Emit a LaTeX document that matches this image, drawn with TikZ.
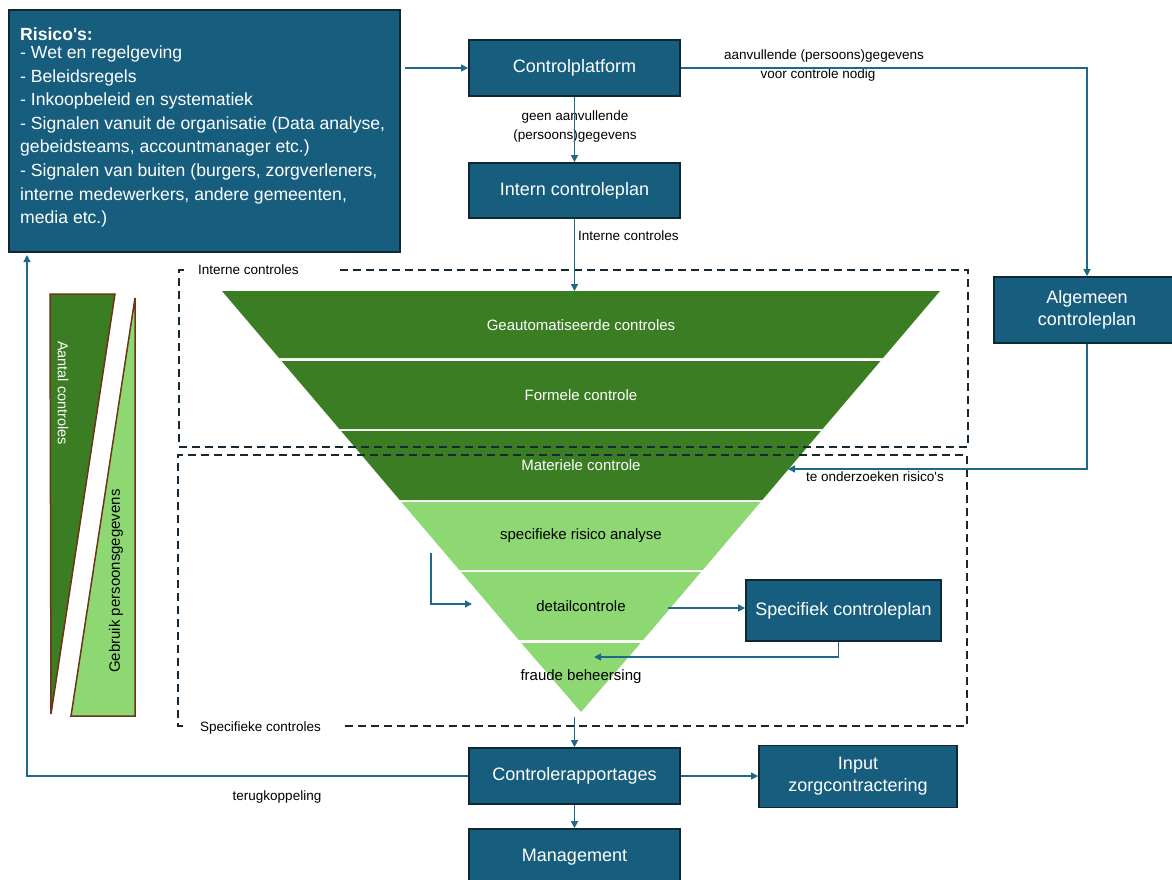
\documentclass[tikz,border=0pt]{standalone}
\usepackage{fontspec}
\setmainfont{Liberation Sans}
\usetikzlibrary{arrows.meta}
\definecolor{boxblue}{RGB}{23,94,126}
\definecolor{boxborder}{RGB}{14,40,54}
\definecolor{arrowblue}{RGB}{31,104,138}
\definecolor{dkgreen}{RGB}{59,125,35}
\definecolor{ltgreen}{RGB}{142,216,115}
\definecolor{brownline}{RGB}{110,52,22}
\definecolor{dashcol}{RGB}{22,40,52}
\newcommand{\sq}{\XeTeXglyph\XeTeXcharglyph"0027\relax}
\begin{document}
\begin{tikzpicture}[x=1pt,y=-1pt,
  box/.style={draw=boxborder, line width=1.8pt, fill=boxblue, text=white, align=center,
    font=\fontsize{18}{22}\selectfont, inner sep=0pt},
  conn/.style={draw=arrowblue, line width=1.4pt},
  arr/.style={conn, -{Triangle[length=7pt,width=7pt]}},
  lbl/.style={font=\fontsize{13.5}{19}\selectfont, text=black, inner sep=0pt, align=center},
  bandtxt/.style={font=\fontsize{15}{17}\selectfont, inner sep=0pt},
  dashbox/.style={draw=dashcol, line width=1.6pt, dash pattern=on 8pt off 5pt},
  sidetri/.style={draw=brownline, line width=1.5pt}]
\clip (0,0) rectangle (1172,879);
\fill[white] (0,0) rectangle (1172,879);

% Risico box
\node[box, minimum width=391pt, minimum height=242pt] (risk) at (204.5,131) {};
\node[anchor=north west, inner sep=0pt, text=white, align=left,
  font=\fontsize{17.6}{23.6}\selectfont] (risktext) at (20,27.5)
  {\textbf{Risico\sq s:}\\[-5.6pt]
   - Wet en regelgeving\\
   - Beleidsregels\\
   - Inkoopbeleid en systematiek\\
   - Signalen vanuit de organisatie (Data analyse,\\
   gebeidsteams, accountmanager etc.)\\
   - Signalen van buiten (burgers, zorgverleners,\\
   interne medewerkers, andere gemeenten,\\
   media etc.)};

% Blue boxes
\node[box, minimum width=211pt, minimum height=56pt] (cp) at (574.5,68) {Controlplatform};
\node[box, minimum width=211pt, minimum height=55pt] (icp) at (574.5,190.5) {Intern controleplan};
\node[box, minimum width=186pt, minimum height=66pt] (alg) at (1087,310) {Algemeen\\controleplan};
\node[box, minimum width=195pt, minimum height=61pt] (sp) at (843.5,610.5) {Specifiek controleplan};
\node[box, minimum width=211pt, minimum height=56pt] (cr) at (574.5,776) {Controlerapportages};
\node[box, minimum width=198pt, minimum height=62pt] (iz) at (858,776.5) {Input\\zorgcontractering};
\node[box, minimum width=211pt, minimum height=56pt] (mg) at (574.5,857) {Management};

% Inverted triangle (funnel)
\fill[dkgreen] (222,291) -- (940,291) -- (883,358) -- (279,358) -- cycle;
\fill[dkgreen] (281.5,361) -- (880.5,361) -- (822.6,429) -- (339.4,429) -- cycle;
\fill[dkgreen] (341.1,431) -- (820.9,431) -- (762.3,500) -- (399.7,500) -- cycle;
\fill[ltgreen] (401.4,502) -- (760.6,502) -- (702.7,570) -- (459.3,570) -- cycle;
\fill[ltgreen] (461,572) -- (701,572) -- (643.2,640) -- (518.8,640) -- cycle;
\fill[ltgreen] (521.3,643) -- (640.7,643) -- (581,712) -- cycle;
\node[bandtxt, text=white] (b1) at (581,325) {Geautomatiseerde controles};
\node[bandtxt, text=white] (b2) at (581,395) {Formele controle};
\node[bandtxt, text=white] (b3) at (581,465) {Materiele controle};
\node[bandtxt, text=black] (b4) at (581,536) {specifieke risico analyse};
\node[bandtxt, text=black] (b5) at (581,606) {detailcontrole};
\node[bandtxt, text=black] (b6) at (581,677) {fraude beheersing};

% Dashed groups
\draw[dashbox] (340,270) -- (968,270) -- (968,447) -- (179,447) -- (179,270) -- (188,270);
\draw[dashbox] (345,726) -- (967,726) -- (967,455) -- (178,455) -- (178,726) -- (185,726);
\node[lbl, anchor=west] (lint) at (198,270) {Interne controles};
\node[lbl, anchor=west] (lspec) at (200,728) {Specifieke controles};

% Side triangles
\draw[sidetri, fill=dkgreen] (50,294) -- (115,294) -- (51,714) -- cycle;
\draw[sidetri, fill=ltgreen] (135,298) -- (135,716) -- (71,716) -- cycle;
\node[font=\fontsize{14.5}{16}\selectfont, text=white, rotate=-90, inner sep=0pt] (aantal) at (63,393) {Aantal controles};
\node[font=\fontsize{15}{17}\selectfont, text=black, rotate=90, inner sep=0pt] (gebruik) at (116,581) {Gebruik persoonsgegevens};

% Coordinates
\coordinate (riskout) at (405,68);
\coordinate (tritop) at (574.5,291);
\coordinate (trir) at (788,469);
\coordinate (detR) at (668,608);
\coordinate (fraudR) at (594,657);
\coordinate (elbowA) at (431,553);
\coordinate (elbowB) at (431,604);
\coordinate (elbowC) at (472,604);
\coordinate (apexout) at (574.5,717);
\coordinate (fbEnd) at (27,255);

% Labels
\node[lbl] (lgeen) at (575,126.5) {geen aanvullende\\(persoons)gegevens};
\node[lbl, anchor=west] (linterne) at (578,236) {Interne controles};
\node[lbl] (laanv1) at (824,56) {aanvullende (persoons)gegevens};
\node[lbl] (laanv2) at (818,75) {voor controle nodig};
\node[lbl] (lteond) at (875,477) {te onderzoeken risico\sq s};
\node[lbl] (lterug) at (277,797) {terugkoppeling};

% Connectors
\draw[arr] (riskout) -- (cp.west);
\draw[arr] (cp.south) -- (icp.north);
\draw[arr] (icp.south) -- (tritop);
\draw[arr] (cp.east) -| (alg.north);
\draw[arr] (alg.south) |- (trir);
\draw[arr] (detR) -- (sp.west |- detR);
\draw[arr] ([xshift=-5pt]sp.south) |- (fraudR);
\draw[arr] (elbowA) -- (elbowB) -- (elbowC);
\draw[arr] (apexout) -- (cr.north);
\draw[arr] (cr.east) -- (iz.west |- cr.east);
\draw[arr] (cr.south) -- (mg.north);
\draw[arr] (cr.west) -| (fbEnd);
\end{tikzpicture}
\end{document}
